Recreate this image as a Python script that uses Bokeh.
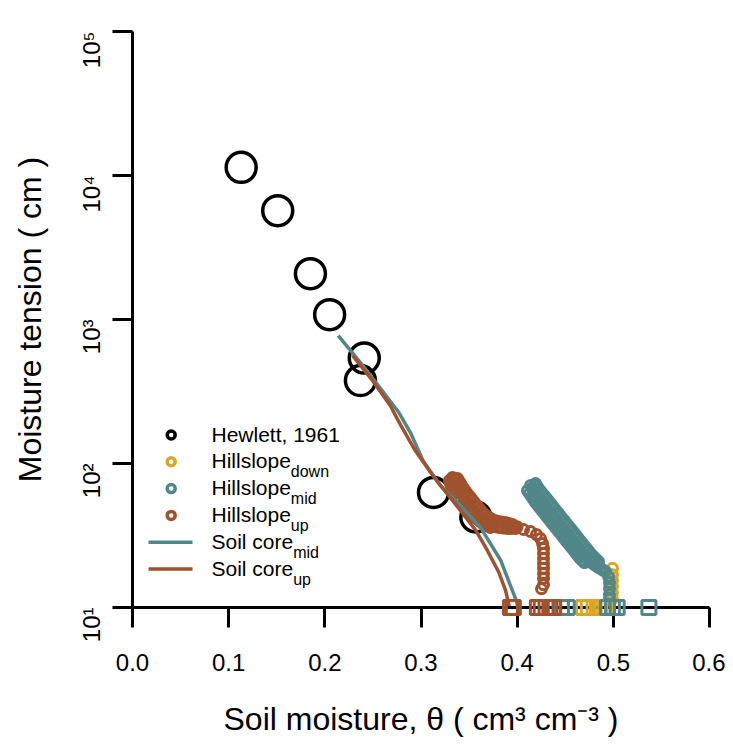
import math
from bokeh.plotting import figure
from bokeh.models import Range1d, FixedTicker, CustomJSTickFormatter
from bokeh.core.properties import value
from bokeh.embed import file_html
from bokeh.resources import INLINE

# ---------------- data ----------------
hewlett_theta = [0.113, 0.151, 0.185, 0.205, 0.241, 0.237, 0.313, 0.357]
hewlett_psi = [11400, 5700, 2080, 1080, 540, 377, 63, 42.5]

core_mid_theta = [0.214, 0.237, 0.258, 0.277, 0.289, 0.302, 0.320, 0.341, 0.362, 0.383, 0.393, 0.399, 0.401]
core_mid_psi = [774, 502, 332, 226, 164, 105, 70.3, 51.1, 35.9, 21.2, 14.2, 11.2, 10.0]

core_up_theta = [0.229, 0.248, 0.268, 0.279, 0.294, 0.310, 0.326, 0.341, 0.357, 0.369, 0.381, 0.388, 0.392]
core_up_psi = [562, 389, 253, 184, 123, 86.6, 63.0, 47.2, 34.3, 24.9, 17.5, 13.1, 10.0]

up_theta = [0.3328, 0.3348, 0.3369, 0.3390, 0.3421, 0.3452, 0.3484, 0.3515, 0.3556, 0.3598,
            0.3650, 0.3702, 0.3764, 0.3827, 0.3900, 0.3983, 0.4066, 0.4139, 0.4201, 0.4243,
            0.4264, 0.4274, 0.4274, 0.4274, 0.4274, 0.4274, 0.4274, 0.4274, 0.4274, 0.4253,
            0.3338, 0.3358, 0.3380, 0.3405, 0.3436, 0.3468, 0.3500, 0.3535, 0.3577, 0.3624,
            0.3676, 0.3733, 0.3795,
            0.3380, 0.3411, 0.3442, 0.3473, 0.3515, 0.3556, 0.3598, 0.3639, 0.3691, 0.3743,
            0.3806, 0.3879, 0.3951,
            0.3395, 0.3426, 0.3458, 0.3494, 0.3535, 0.3577, 0.3618, 0.3665, 0.3717, 0.3775,
            0.3843, 0.3915,
            0.3296, 0.3317, 0.3359, 0.3411, 0.3463, 0.3515, 0.3577, 0.3639,
            0.3306, 0.3338, 0.3385, 0.3437, 0.3489, 0.3546, 0.3608, 0.3670, 0.3720,
            0.3860, 0.3940, 0.3920, 0.4000]
up_psi = [80.0, 76.2, 71.5, 67.0, 61.9, 57.2, 52.8, 49.5, 45.7, 42.2,
          39.5, 37.7, 36.5, 35.9, 35.4, 35.4, 34.8, 33.7, 32.1, 30.1,
          27.8, 25.7, 23.7, 21.9, 20.2, 18.7, 17.2, 15.9, 14.4, 13.5,
          78.0, 73.8, 69.2, 64.4, 59.5, 55.0, 51.1, 47.6, 43.9, 40.8,
          38.5, 37.0, 36.2,
          78.7, 72.6, 67.0, 62.9, 58.1, 53.6, 49.5, 45.7, 42.8, 40.8,
          39.5, 38.9, 37.7,
          75.5, 69.8, 64.9, 60.4, 55.8, 51.5, 47.6, 44.2, 41.8, 40.1,
          39.2, 38.3,
          76.2, 69.2, 62.9, 55.3, 50.2, 45.7, 41.5, 38.3,
          72.6, 66.0, 59.0, 52.7, 47.9, 43.6, 39.9, 37.2, 36.0,
          35.6, 35.4, 36.8, 36.3]

mid_theta = [0.4139, 0.4170, 0.4201, 0.4243, 0.4284, 0.4326, 0.4367, 0.4409, 0.4451, 0.4492,
             0.4534, 0.4575, 0.4617, 0.4659, 0.4711, 0.4763, 0.4815, 0.4866, 0.4918, 0.4950,
             0.4960, 0.4960, 0.4960, 0.4960,
             0.4155, 0.4185, 0.4222, 0.4263, 0.4305, 0.4347, 0.4388, 0.4430, 0.4471, 0.4513,
             0.4555, 0.4596, 0.4638, 0.4685, 0.4737, 0.4789, 0.4840, 0.4892,
             0.4191, 0.4222, 0.4263, 0.4305, 0.4347, 0.4388, 0.4430, 0.4471, 0.4513, 0.4555,
             0.4596, 0.4638, 0.4679, 0.4721, 0.4763, 0.4804, 0.4846,
             0.4206, 0.4243, 0.4284, 0.4326, 0.4367, 0.4409, 0.4451, 0.4492, 0.4534, 0.4575,
             0.4617, 0.4659, 0.4700, 0.4742, 0.4784, 0.4825,
             0.4107, 0.4149, 0.4191, 0.4232, 0.4274, 0.4315, 0.4357, 0.4399, 0.4440, 0.4482,
             0.4523, 0.4565, 0.4607, 0.4648, 0.4700,
             0.4128, 0.4170, 0.4212, 0.4253, 0.4295, 0.4336, 0.4378, 0.4420, 0.4461, 0.4503,
             0.4544, 0.4586, 0.4628, 0.4674]
mid_psi = [70.3, 64.9, 59.9, 55.3, 51.1, 47.2, 43.5, 40.2, 36.5, 33.7,
           31.1, 28.7, 26.1, 24.1, 22.2, 20.8, 19.6, 18.7, 17.8, 16.4,
           14.9, 13.6, 12.3, 11.4,
           67.5, 62.4, 57.5, 53.2, 49.1, 45.3, 41.8, 38.3, 35.1, 32.4,
           29.9, 27.4, 25.1, 23.1, 21.5, 20.2, 19.1, 18.2,
           72.6, 67.0, 61.9, 57.2, 52.8, 48.7, 45.0, 41.5, 38.3, 35.4,
           32.7, 30.1, 27.8, 25.7, 23.7, 22.2, 20.8,
           69.8, 64.4, 59.5, 55.0, 50.7, 46.8, 43.2, 39.9, 36.8, 34.0,
           31.4, 28.9, 26.7, 24.7, 22.9, 21.5,
           64.9, 59.0, 53.6, 49.5, 45.7, 42.2, 38.9, 35.9, 33.2, 30.6,
           28.3, 26.1, 24.1, 22.2, 20.5,
           61.9, 56.3, 51.5, 47.6, 43.9, 40.5, 37.4, 34.5, 31.9, 29.4,
           27.2, 25.1, 23.1, 21.3]

down_theta = [0.4991, 0.4991, 0.4991, 0.4991, 0.4991, 0.4991]
down_psi = [18.7, 16.9, 15.4, 14.0, 12.7, 11.5]

# saturated samples plotted at 10 cm
up_sat_theta = [0.393, 0.396, 0.421, 0.425, 0.430, 0.434, 0.438]
up_sat_psi = [10, 10, 10, 10, 10, 10, 10]
mid_sat_theta = [0.446, 0.452, 0.494, 0.499, 0.504, 0.537]
mid_sat_psi = [10, 10, 10, 10, 10, 10]
down_sat_theta = [0.469, 0.474, 0.480, 0.486, 0.492]
down_sat_psi = [10, 10, 10, 10, 10]

x_ticks = [0.0, 0.1, 0.2, 0.3, 0.4, 0.5, 0.6]
y_ticks = [10, 100, 1000, 10000, 100000]

legend_labels = ["Hewlett, 1961", "Hillslope", "Hillslope", "Hillslope", "Soil core", "Soil core"]
legend_subs = ["", "down", "mid", "up", "mid", "up"]

# ---------------- style ----------------
C_DOWN = "#DBA628"
C_MID = "#52878A"
C_UP = "#A0522D"
FONT = "Liberation Sans"

W, H = 725, 745
ML, MR, MT, MB = 132, 16, 31, 138

p = figure(width=W, height=H, x_range=Range1d(0, 0.6), y_range=Range1d(10, 1e5),
           y_axis_type="log", output_backend="svg", toolbar_location=None,
           min_border_left=ML, min_border_right=MR, min_border_top=MT, min_border_bottom=MB)
p.outline_line_color = None
p.grid.visible = False
p.background_fill_color = "white"

for ax in (p.xaxis[0], p.yaxis[0]):
    ax.axis_line_width = 3
    ax.axis_line_color = "black"
    ax.major_tick_line_width = 3
    ax.major_tick_line_color = "black"
    ax.major_tick_out = 20
    ax.major_tick_in = 0
    ax.minor_tick_line_color = None
    ax.major_label_text_font = FONT
    ax.major_label_text_font_size = "24px"
    ax.major_label_text_color = "black"
    ax.axis_label_text_font = FONT
    ax.axis_label_text_font_size = "32px"
    ax.axis_label_text_font_style = "normal"
    ax.axis_label_text_color = "black"

p.xaxis.ticker = FixedTicker(ticks=x_ticks)
p.xaxis.formatter = CustomJSTickFormatter(code="return tick.toFixed(1);")
p.xaxis.major_label_standoff = 26
p.xaxis.axis_label = "Soil moisture, \u03b8 ( cm\u00b3 cm\u207b\u00b3 )"
p.xaxis.axis_label_standoff = 27

p.yaxis.ticker = FixedTicker(ticks=y_ticks)
p.yaxis.formatter = CustomJSTickFormatter(code="""
const s = {1:'\\u00b9', 2:'\\u00b2', 3:'\\u00b3', 4:'\\u2074', 5:'\\u2075'};
return '10' + s[Math.round(Math.log10(tick))];
""")
p.yaxis.major_label_orientation = math.pi / 2
p.yaxis.major_label_standoff = 21
p.yaxis.axis_label = "Moisture tension ( cm )"
p.yaxis.axis_label_standoff = 14

# ---------------- data marks ----------------
p.scatter(hewlett_theta, hewlett_psi, marker="circle", size=30, fill_color=None,
          line_color="black", line_width=3.5)

r = p.scatter(down_sat_theta, down_sat_psi, marker="square", size=14, fill_color=None,
              line_color=C_DOWN, line_width=3)
r.level = "overlay"
p.scatter(down_theta, down_psi, marker="circle", size=10, fill_color=None,
          line_color=C_DOWN, line_width=3)
r = p.scatter(mid_sat_theta, mid_sat_psi, marker="square", size=14, fill_color=None,
              line_color=C_MID, line_width=3)
r.level = "overlay"
p.scatter(mid_theta, mid_psi, marker="circle", size=10, fill_color=None,
          line_color=C_MID, line_width=3)
r = p.scatter(up_sat_theta, up_sat_psi, marker="square", size=14, fill_color=None,
              line_color=C_UP, line_width=3)
r.level = "overlay"
p.scatter(up_theta, up_psi, marker="circle", size=10, fill_color=None,
          line_color=C_UP, line_width=3)

p.line(core_mid_theta, core_mid_psi, line_color=C_MID, line_width=3.5)
p.line(core_up_theta, core_up_psi, line_color=C_UP, line_width=3.5)

# ---------------- manual legend (layout in pixels -> data) ----------------
frame_w = W - ML - MR
frame_h = H - MT - MB

def px_x(px):  # canvas pixel -> theta
    return (px - ML) / frame_w * 0.6

def px_y(py):  # canvas pixel -> tension (log)
    return 10 ** (1 + (MT + frame_h - py) / (frame_h / 4))

row_y = [434.5, 461.3, 488.1, 514.9, 541.7, 568.5]
marker_cols = ["black", C_DOWN, C_MID, C_UP]
for i in range(4):
    p.scatter([px_x(170.7)], [px_y(row_y[i])], marker="circle", size=8, fill_color=None,
              line_color=marker_cols[i], line_width=3.5)
for i, c in zip((4, 5), (C_MID, C_UP)):
    p.line([px_x(148), px_x(192)], [px_y(row_y[i]), px_y(row_y[i])], line_color=c, line_width=3.5)

for i in range(6):
    p.text([px_x(211)], [px_y(row_y[i] - 1)], text=[legend_labels[i]],
           text_font=value(FONT), text_font_size="21px", text_baseline="middle",
           text_align="left", text_color="black")
    if legend_subs[i]:
        sub_x = 211 + (79.3 if legend_labels[i] == "Hillslope" else 81.7)
        p.text([px_x(sub_x)], [px_y(row_y[i] + 10)], text=[legend_subs[i]],
               text_font=value(FONT), text_font_size="16px", text_baseline="alphabetic",
               text_align="left", text_color="black")

open("out.html", "w").write(file_html(p, INLINE))
